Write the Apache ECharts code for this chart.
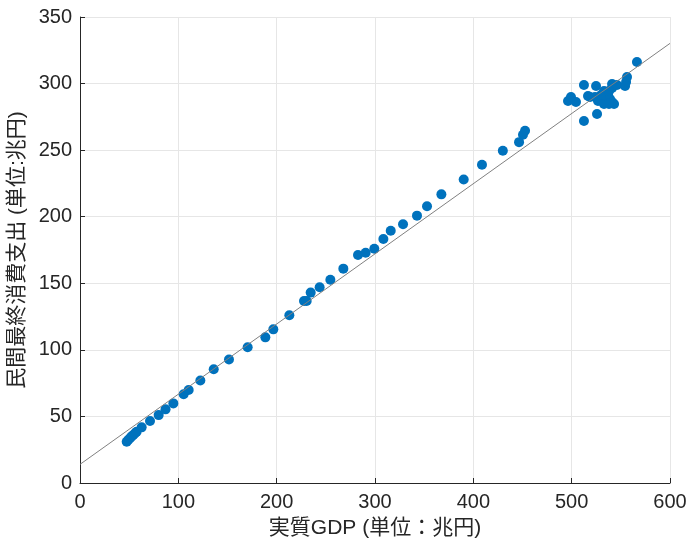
<!DOCTYPE html>
<html>
<head>
<meta charset="utf-8">
<script src="https://cdn.jsdelivr.net/npm/echarts@6/dist/echarts.min.js"></script>
<style>
  html, body { margin: 0; padding: 0; background: #fff; }
  #chart { width: 691px; height: 541px; }
</style>
</head>
<body>
<div id="chart"></div>
<script>
// 実質GDP (兆円)
var gdp = [
  47.5, 49, 50.8, 52.5, 54.2, 56, 57.6, 62.7, 71.2, 80, 87, 94.9, 105.4, 110.5,
  122.4, 136, 151.5, 170.5, 188.5, 196.6, 212.9, 227.8, 230.5, 234.6, 243.7,
  254.6, 267.8, 282.7, 290.5, 299.3, 308.5, 316, 328.5, 342.7, 352.9, 367.5,
  390.2, 408.8, 430, 446.5, 450.5, 452.6,
  496.3, 499.3, 504.4, 512.5, 512.5, 516.6, 524.8, 525.8, 518.7, 523.8, 528.8,
  531.9, 535, 537, 539, 541.1, 543.1, 532.9, 535, 541.1, 541.1, 546.1, 554.3,
  555.3, 556.3, 566.4, 526.8, 529.9, 538, 532.9, 538
]
// 民間最終消費支出 (兆円)
var consumption = [
  31, 32.3, 33.6, 35, 36, 37.3, 38.5, 41.8, 46.6, 51, 55.3, 59.8, 66.6, 69.9,
  77, 85.4, 92.8, 102, 109.4, 115.4, 126, 136.7, 136.7, 143, 147,
  152.7, 161, 171.2, 173, 176, 183.3, 189.5, 194.3, 200.8, 207.8, 216.8,
  228, 239, 249.5, 256, 261.5, 264.5,
  286.9, 289.9, 286.2, 271.9, 298.9, 290.6, 298.2, 277.2, 289.9, 289.9, 289.2,
  287.7, 286.9, 291.4, 288.4, 286.2, 284.7, 294.4, 292.1, 299.7, 296.7, 298.9, 298.2,
  301.2, 305, 316.2, 286.9, 291.4, 294.4, 284.7, 284.7
]
// 回帰直線の端点
var fitX = [0, 600]
var fitY = [14, 330.2]

var points = gdp.map(function (v, i) { return [v, consumption[i]] })
var fitLine = fitX.map(function (v, i) { return [v, fitY[i]] })

var chart = echarts.init(document.getElementById('chart'))

var axisText = { color: '#262626', fontSize: 20, fontFamily: 'Liberation Sans' }
var nameText = { color: '#262626', fontSize: 21, fontFamily: 'Liberation Sans, Noto Sans CJK JP' }

var option = {
  animation: false,
  grid: { left: 80, right: 21, top: 17, bottom: 58, outerBoundsMode: 'none' },
  xAxis: {
    type: 'value',
    min: 0,
    max: 600,
    interval: 100,
    name: '実質GDP (単位：兆円)',
    nameLocation: 'middle',
    nameGap: 35,
    nameTextStyle: nameText,
    axisLine: { show: true, onZero: false, lineStyle: { color: '#262626', width: 1 } },
    axisTick: { show: true, inside: true, length: 5, lineStyle: { color: '#262626' } },
    axisLabel: Object.assign({ margin: 9 }, axisText),
    splitLine: { show: true, lineStyle: { color: '#e6e6e6', width: 1 } }
  },
  yAxis: {
    type: 'value',
    min: 0,
    max: 350,
    interval: 50,
    name: '民間最終消費支出 (単位:兆円)',
    nameLocation: 'middle',
    nameGap: 42,
    nameTextStyle: nameText,
    axisLine: { show: true, onZero: false, lineStyle: { color: '#262626', width: 1 } },
    axisTick: { show: true, inside: true, length: 5, lineStyle: { color: '#262626' } },
    axisLabel: Object.assign({ margin: 8 }, axisText),
    splitLine: { show: true, lineStyle: { color: '#e6e6e6', width: 1 } }
  },
  series: [
    {
      type: 'scatter',
      data: points,
      symbol: 'circle',
      symbolSize: 10,
      itemStyle: { color: '#0072BD', opacity: 1 },
      z: 3
    },
    {
      type: 'line',
      data: fitLine,
      symbol: 'none',
      lineStyle: { color: '#808080', width: 1 },
      z: 4
    }
  ]
}

chart.setOption(option)
</script>
</body>
</html>
